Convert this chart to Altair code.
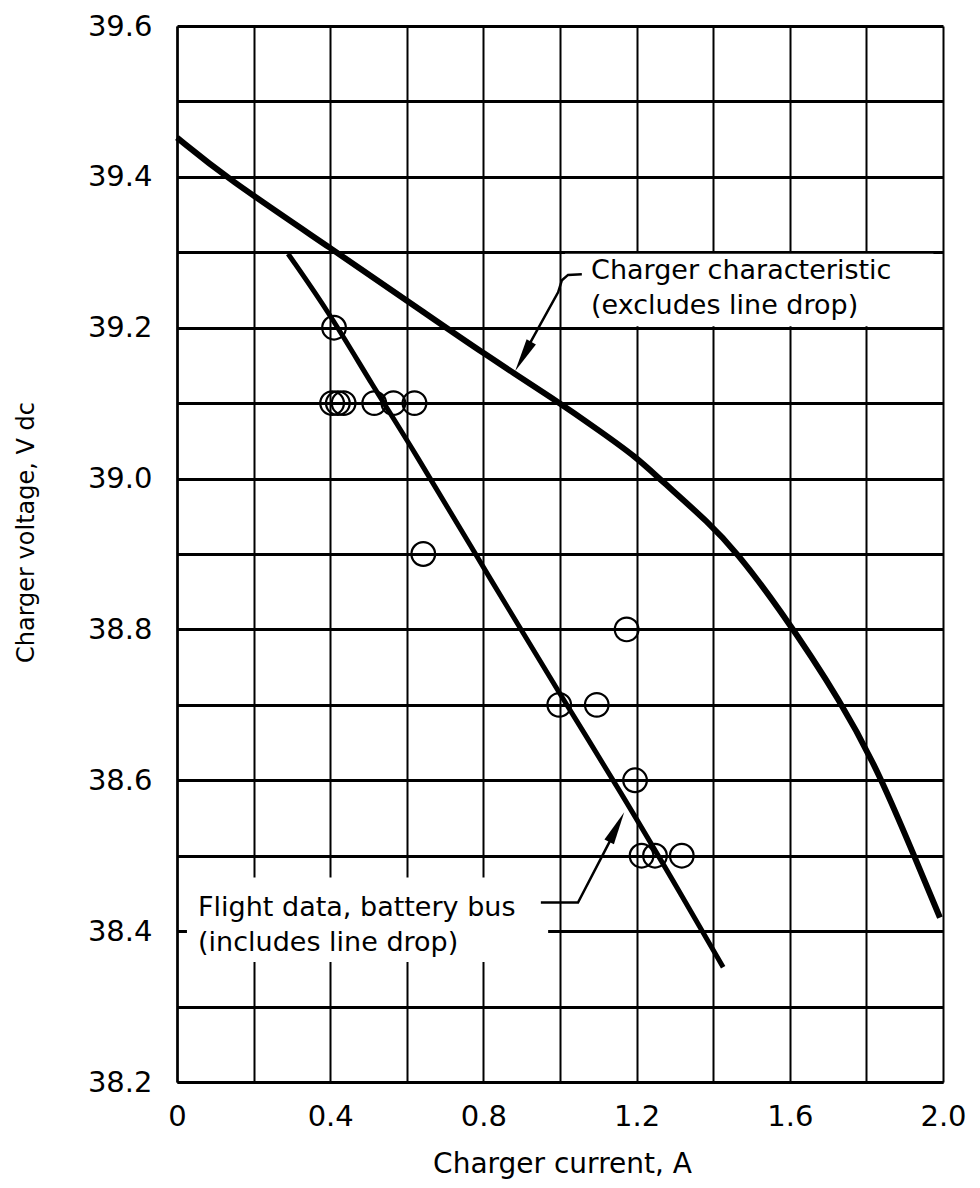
import altair as alt
import pandas as pd

# ---- data ----
x_grid = [0, 0.2, 0.4, 0.6, 0.8, 1.0, 1.2, 1.4, 1.6, 1.8, 2.0]
y_grid = [38.2, 38.3, 38.4, 38.5, 38.6, 38.7, 38.8, 38.9, 39.0, 39.1, 39.2, 39.3, 39.4, 39.5, 39.6]

# flight data points (circles)
pt_current = [0.41, 0.405, 0.42, 0.435, 0.515, 0.565, 0.62, 0.643, 0.998, 1.096, 1.174, 1.196, 1.213, 1.248, 1.318]
pt_voltage = [39.2, 39.1, 39.1, 39.1, 39.1, 39.1, 39.1, 38.9, 38.7, 38.7, 38.8, 38.6, 38.5, 38.5, 38.5]

# charger characteristic curve
char_current = [0, 0.125, 0.4, 0.66, 0.791, 0.991, 1.104, 1.2, 1.261, 1.392, 1.461, 1.566, 1.74, 1.836, 1.923, 1.992]
char_voltage = [39.452, 39.4, 39.306, 39.215, 39.169, 39.103, 39.063, 39.028, 38.999, 38.94, 38.902, 38.833, 38.70, 38.606, 38.502, 38.418]

# flight data line
flight_current = [0.29, 0.4, 0.513, 0.608, 0.826, 1.0, 1.157, 1.331, 1.426]
flight_voltage = [39.298, 39.218, 39.121, 39.046, 38.86, 38.714, 38.586, 38.436, 38.352]

# annotations
char_text = ["Charger characteristic", "(excludes line drop)"]
char_text_x = [1.081, 1.081]
char_text_y = [39.264, 39.218]
char_box = {"x": 1.013, "x2": 1.975, "y": 39.202, "y2": 39.298}
char_leader_x = [1.057, 1.021, 1.005, 0.995, 0.922]
char_leader_y = [39.271, 39.270, 39.263, 39.247, 39.180]
char_head = {"x": 0.904, "y": 39.162, "angle": 209}

flight_text = ["Flight data, battery bus", "(includes line drop)"]
flight_text_x = [0.055, 0.055]
flight_text_y = [38.42, 38.374]
flight_box = {"x": 0.026, "x2": 0.969, "y": 38.359, "y2": 38.471}
flight_leader_x = [0.95, 1.047, 1.131]
flight_leader_y = [38.438, 38.438, 38.520]
flight_head = {"x": 1.148, "y": 38.538, "angle": 27}

FONT = "DejaVu Sans"

xscale = alt.Scale(domain=[0, 2], nice=False, zero=False)
yscale = alt.Scale(domain=[38.2, 39.6], nice=False, zero=False)

xaxis = alt.Axis(
    values=x_grid,
    labelExpr="round(datum.value*10) % 4 == 0 ? (datum.value == 0 ? '0' : format(datum.value, '.1f')) : ''",
    grid=True, gridColor="black", gridWidth=2, gridOpacity=1,
    ticks=False, domainColor="black", domainWidth=2.5,
    labelFont=FONT, labelFontSize=29, labelColor="black", labelPadding=20,
    labelFlush=False, labelOverlap=False, labelBound=False,
    title="Charger current, A", titleFont=FONT, titleFontSize=28, titleFontWeight="normal",
    titleColor="black", titleX=385, titleY=90, titleBaseline="alphabetic", titleAlign="center",
)
yaxis = alt.Axis(
    values=y_grid,
    labelExpr="round(datum.value*10) % 2 == 0 ? format(datum.value, '.1f') : ''",
    grid=True, gridColor="black", gridWidth=3, gridOpacity=1,
    ticks=False, domainColor="black", domainWidth=2.5,
    labelFont=FONT, labelFontSize=29, labelColor="black", labelPadding=25,
    labelFlush=False, labelOverlap=False, labelBound=False,
    title="Charger voltage, V dc", titleFont=FONT, titleFontSize=24, titleFontWeight="normal",
    titleColor="black", titleX=-151, titleY=506, titleAngle=270, titleBaseline="middle", titleAlign="center",
)

def X(field="x"):
    return alt.X(f"{field}:Q", scale=xscale, axis=xaxis)

def Y(field="y"):
    return alt.Y(f"{field}:Q", scale=yscale, axis=yaxis)

char_df = pd.DataFrame({"x": char_current, "y": char_voltage})
flight_df = pd.DataFrame({"x": flight_current, "y": flight_voltage})
pts_df = pd.DataFrame({"x": pt_current, "y": pt_voltage})
box_df = pd.DataFrame([char_box, flight_box])
text_df = pd.DataFrame({
    "x": char_text_x + flight_text_x,
    "y": char_text_y + flight_text_y,
    "t": char_text + flight_text,
})
lead1 = pd.DataFrame({"x": char_leader_x, "y": char_leader_y, "o": range(len(char_leader_x))})
lead2 = pd.DataFrame({"x": flight_leader_x, "y": flight_leader_y, "o": range(len(flight_leader_x))})
heads = pd.DataFrame([char_head, flight_head])

boxes = alt.Chart(box_df).mark_rect(color="white", opacity=1).encode(
    x=X(), x2="x2:Q", y=Y(), y2="y2:Q"
)
char_line = alt.Chart(char_df).mark_line(color="black", strokeWidth=6, interpolate="basis").encode(
    x=X(), y=Y()
)
flight_line = alt.Chart(flight_df).mark_line(color="black", strokeWidth=5, interpolate="basis").encode(
    x=X(), y=Y()
)
points = alt.Chart(pts_df).mark_point(shape="circle", filled=False, size=560, strokeWidth=2.2,
                                      color="black", opacity=1).encode(x=X(), y=Y())
leader1 = alt.Chart(lead1).mark_line(color="black", strokeWidth=2.5).encode(x=X(), y=Y(), order="o:Q")
leader2 = alt.Chart(lead2).mark_line(color="black", strokeWidth=2.5).encode(x=X(), y=Y(), order="o:Q")
arrowheads = alt.Chart(heads).mark_point(
    shape="M0,-1L-0.32,1L0.32,1Z", filled=True, size=1100, color="black", opacity=1, strokeWidth=0
).encode(x=X(), y=Y(), angle=alt.Angle("angle:Q", scale=None))
texts = alt.Chart(text_df).mark_text(
    align="left", baseline="alphabetic", font=FONT, fontSize=27, color="black"
).encode(x=X(), y=Y(), text="t:N")

chart = alt.layer(boxes, char_line, flight_line, points, leader1, leader2, arrowheads, texts).properties(
    width=766, height=1056,
    autosize=alt.AutoSizeParams(type="none"),
    padding={"left": 169, "top": 18, "right": 29, "bottom": 98},
).configure_view(stroke=None).configure(background="white")

chart.save("out.html", embed_options={"renderer": "svg", "actions": False})
